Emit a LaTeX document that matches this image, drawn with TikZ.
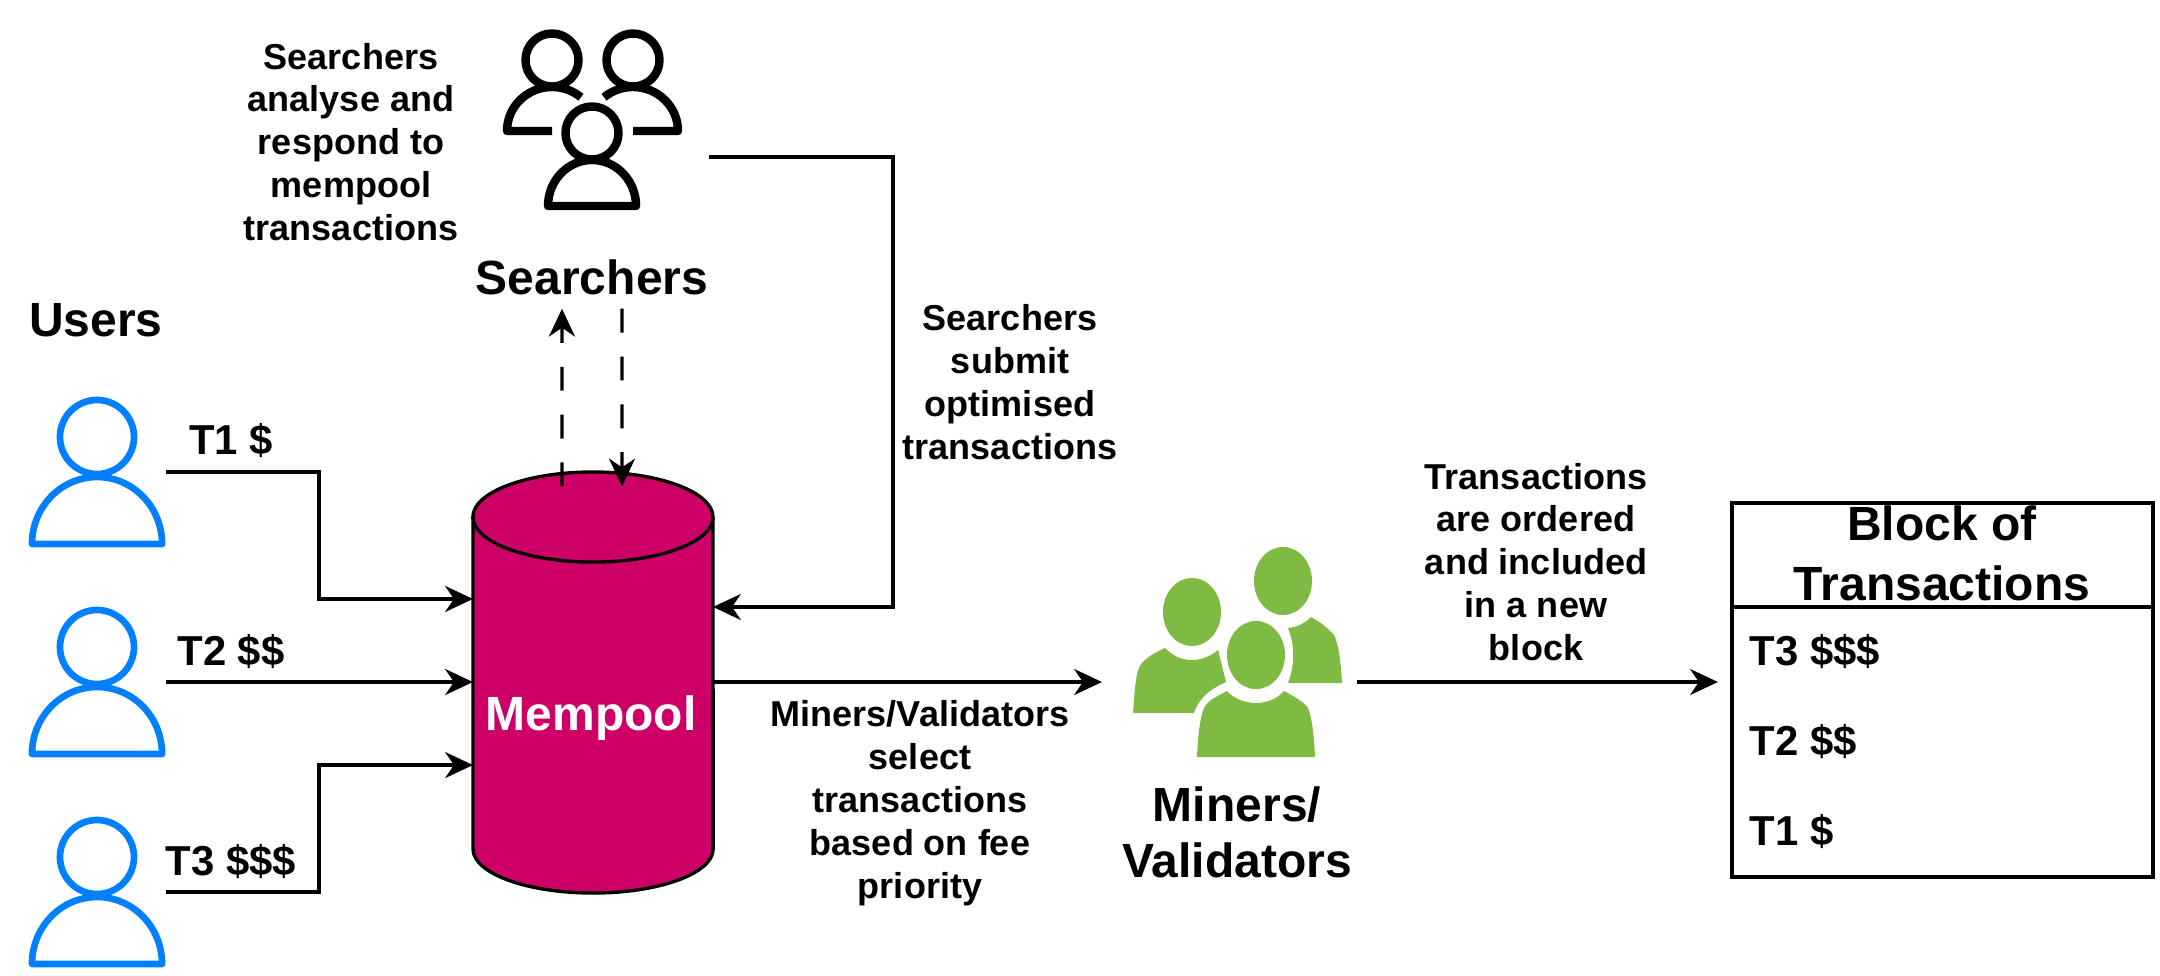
\documentclass[tikz,border=0pt]{standalone}
\usepackage{xcolor}
\usepackage{fontspec}
\setmainfont{Liberation Sans}
\usetikzlibrary{arrows.meta, positioning, calc}
\definecolor{userblue}{RGB}{0, 127, 255}
\definecolor{poolred}{RGB}{204, 0, 102}
\definecolor{minergreen}{RGB}{127, 186, 66}
\tikzset{
    >={Stealth[length=7.9pt,width=7.4pt,inset=2.5pt]},
    conn/.style={->, line width=0.95pt},
    dashconn/.style={->, line width=0.95pt, dash pattern=on 6.8pt off 6.8pt},
    iconbox/.style={inner sep=0pt, outer sep=0pt},
    smalltext/.style={inner sep=0pt, align=center, font=\bfseries\fontsize{10.24}{12.2}\selectfont},
    pricetext/.style={inner sep=0pt, font=\bfseries\fontsize{11.9}{14}\selectfont},
    bigtext/.style={inner sep=0pt, align=center, font=\bfseries\fontsize{13.65}{16}\selectfont},
    userline/.style={draw=userblue, line width=1.9pt, line join=round},
    searcherline/.style={draw=black, line width=2.4pt, line join=round}
}
\begin{document}
\begin{tikzpicture}[x=0.01cm, y=-0.01cm]
    \useasboundingbox (0,0) rectangle (2160,975);

    % Users
    \node[bigtext] (userstitle) at (96,320) {Users};
    \foreach \n/\ypos in {1/472, 2/682, 3/892} {
        \node[iconbox, minimum width=1.38cm, minimum height=1.5cm] (user\n) at (97,\ypos) {};
        \draw[userline] (97,\ypos-35) circle[radius=0.37cm];
        \draw[userline] (32,\ypos+72) arc[start angle=180, end angle=0, x radius=0.65cm, y radius=0.67cm] -- cycle;
    }
    \node[pricetext] (t1) at (231,441) {T1 \$};
    \node[pricetext] (t2) at (231,652) {T2 \$\$};
    \node[pricetext] (t3) at (231,862) {T3 \$\$\$};

    % Mempool
    \node[iconbox, minimum width=2.4cm, minimum height=4.21cm] (mempool) at (593,682) {};
    \draw[fill=poolred, line width=0.95pt] (473,517) -- (473,849)
        arc[start angle=180, end angle=360, x radius=1.2cm, y radius=0.44cm] -- (713,517)
        arc[start angle=0, end angle=180, x radius=1.2cm, y radius=0.45cm] -- cycle;
    \draw[line width=0.95pt] (473,517) arc[start angle=180, end angle=360, x radius=1.2cm, y radius=0.45cm];
    \node[bigtext, text=white] (mempooltext) at (591,718) {Mempool};

    % Searchers
    \node[iconbox, minimum width=2.34cm, minimum height=2.64cm] (searchers) at (592,157) {};
    \draw[searcherline] (552,60) circle[radius=0.265cm];
    \draw[searcherline] (633,60) circle[radius=0.265cm];
    \draw[searcherline] (592,133) circle[radius=0.265cm];
    \draw[searcherline] (552,131) -- (507,131) arc[start angle=180, end angle=50, x radius=0.45cm, y radius=0.44cm];
    \draw[searcherline] (633,131) -- (678,131) arc[start angle=0, end angle=130, x radius=0.45cm, y radius=0.44cm];
    \draw[searcherline] (548,206) arc[start angle=180, end angle=0, x radius=0.44cm, y radius=0.46cm] -- cycle;
    \node[bigtext, minimum height=0.62cm] (searcherstitle) at (592,277) {Searchers};
    \node[smalltext] (searchersnote) at (351,142) {Searchers\\analyse and\\respond to\\mempool\\transactions};
    \node[smalltext] (submitnote) at (1010,382) {Searchers\\submit\\optimised\\transactions};

    % Miners
    \node[iconbox, minimum width=2.55cm, minimum height=2.1cm] (miners) at (1229.5,682) {};
    \fill[minergreen] (1192,612) ellipse[x radius=0.29cm, y radius=0.34cm];
    \fill[minergreen] (1283,581) ellipse[x radius=0.29cm, y radius=0.34cm];
    \fill[minergreen] (1133,713) .. controls (1135,685) and (1136,672) .. (1141,664)
        .. controls (1147,657) and (1156,652) .. (1165,648)
        .. controls (1172,655) and (1180,660) .. (1192,660)
        .. controls (1203,660) and (1212,655) .. (1218,650) -- (1226,682)
        .. controls (1208,690) and (1198,700) .. (1194,713) -- cycle;
    \fill[minergreen] (1288,628) .. controls (1298,627) and (1305,623) .. (1311,617)
        .. controls (1320,622) and (1328,628) .. (1334,635)
        .. controls (1339,645) and (1341,665) .. (1342,683) -- (1288,683)
        .. controls (1295,665) and (1295,645) .. (1288,628) -- cycle;
    \fill[minergreen] (1256,655) ellipse[x radius=0.29cm, y radius=0.34cm];
    \fill[minergreen] (1197,757) .. controls (1198,735) and (1200,718) .. (1204,708)
        .. controls (1208,700) and (1218,696) .. (1227,691)
        .. controls (1233,698) and (1244,703) .. (1256,703)
        .. controls (1268,703) and (1278,698) .. (1284,691)
        .. controls (1293,696) and (1303,701) .. (1308,708)
        .. controls (1312,718) and (1314,735) .. (1315,757) -- cycle;
    \node[bigtext] (minerstitle) at (1237,832) {Miners/\\Validators};
    \node[smalltext] (selectnote) at (920,803) {Miners/Validators\\select\\transactions\\based on fee\\priority};
    \node[smalltext] (ordernote) at (1536,562) {Transactions\\are ordered\\and included\\in a new\\block};

    % Block
    \node[draw, line width=0.95pt, iconbox, minimum width=4.21cm, minimum height=3.74cm] (block) at (1942.5,690) {};
    \draw[line width=0.95pt] (block.west |- 0,607) -- (block.east |- 0,607);
    \node[bigtext, font=\bfseries\fontsize{13.65}{17}\selectfont] (blocktitle) at (1942,553) {Block of\\Transactions};
    \node[pricetext, anchor=west] (b3) at (1749,652) {T3 \$\$\$};
    \node[pricetext, anchor=west] (b2) at (1749,742) {T2 \$\$};
    \node[pricetext, anchor=west] (b1) at (1749,832) {T1 \$};

    % connectors
    \draw[conn] (user1.east) -- ++(153,0) |- ([yshift=0.83cm]mempool.west);
    \draw[conn] (user2.east) -- (mempool.west);
    \draw[conn] (user3.east) -- ++(153,0) |- ([yshift=-0.83cm]mempool.west);
    \draw[conn] (searchers.east) -- ++(184,0) |- ([yshift=0.75cm]mempool.east);
    \draw[conn] (mempool.east) -- (miners.west);
    \draw[conn, shorten >=0.14cm] (miners.east) -- (block.west |- miners.east);
    \draw[dashconn] ([xshift=-0.31cm,yshift=-0.15cm]mempool.north) -- ([xshift=-0.3cm]searcherstitle.south);
    \draw[dashconn] ([xshift=0.3cm]searcherstitle.south) -- ([xshift=0.29cm,yshift=-0.15cm]mempool.north);
\end{tikzpicture}
\end{document}
